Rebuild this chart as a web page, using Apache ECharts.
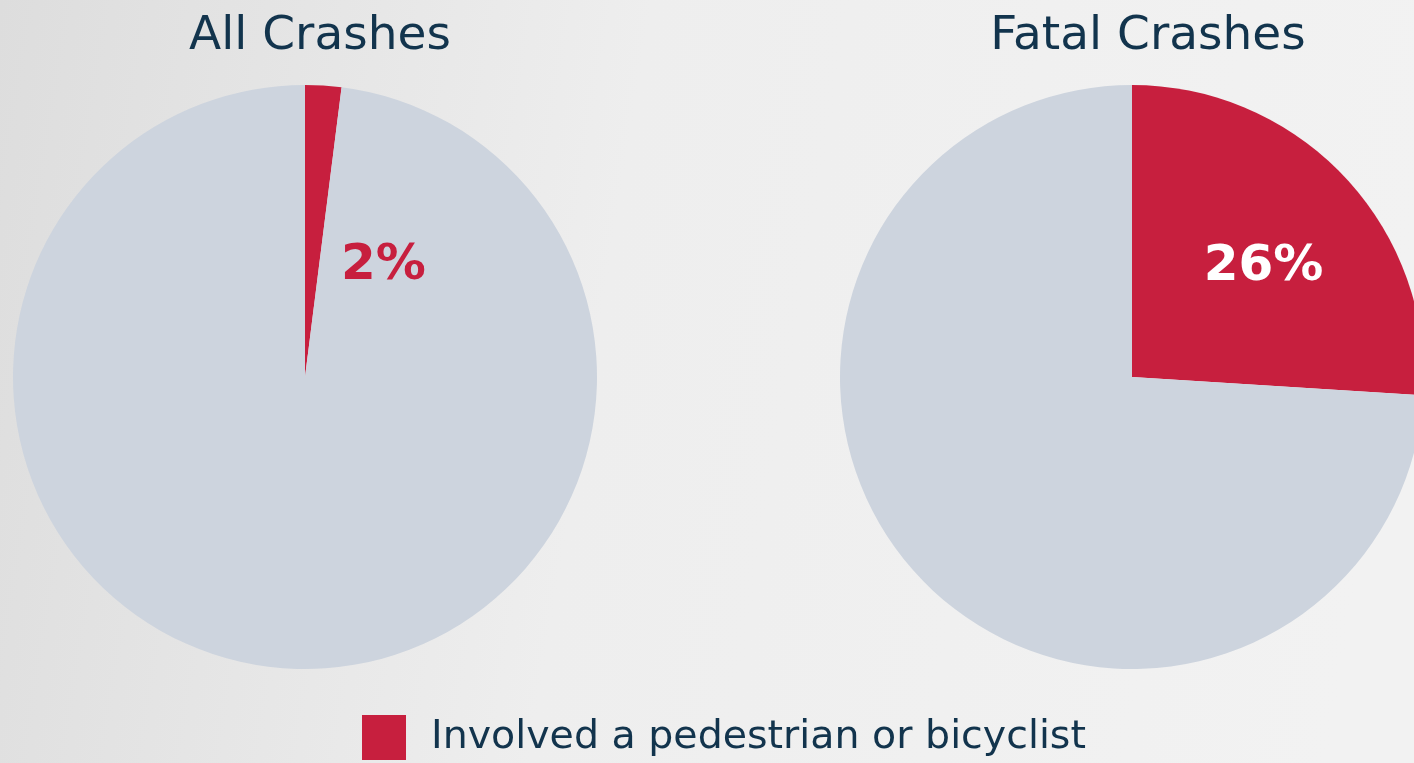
<!DOCTYPE html>
<html>
<head>
<meta charset="utf-8">
<script src="https://cdn.jsdelivr.net/npm/echarts@6/dist/echarts.min.js"></script>
<style>
  html, body { margin: 0; padding: 0; }
  #main { width: 1414px; height: 763px; }
</style>
</head>
<body>
<div id="main"></div>
<script>
// chart data
var chartTitles = ['All Crashes', 'Fatal Crashes']
var sliceNames = ['Involved a pedestrian or bicyclist', 'Other']
var allCrashes = [2, 98]
var fatalCrashes = [26, 74]

var RED = '#c71f3e'
var GREY = '#cdd4de'
var NAVY = '#12344d'
var FONT = '"DejaVu Sans", sans-serif'

function buildData (values, labelColor) {
  return values.map(function (v, i) {
    var item = { name: sliceNames[i], value: v, itemStyle: { color: i === 0 ? RED : GREY } }
    if (i === 0) {
      item.label = { show: true, color: labelColor }
    } else {
      item.label = { show: false }
    }
    return item
  })
}

var chartDom = document.getElementById('main')
var myChart = echarts.init(chartDom)
var option = {
  animation: false,
  backgroundColor: {
    type: 'linear',
    x: 0,
    y: 0,
    x2: 1,
    y2: 0.3,
    colorStops: [
      { offset: 0, color: '#dddddd' },
      { offset: 0.45, color: '#eeeeee' },
      { offset: 1, color: '#f2f2f2' }
    ]
  },
  title: [
    {
      text: chartTitles[0],
      left: 315,
      top: 8,
      textAlign: 'center',
      textStyle: { fontFamily: FONT, fontSize: 47, fontWeight: 'normal', color: NAVY }
    },
    {
      text: chartTitles[1],
      left: 1143,
      top: 8,
      textAlign: 'center',
      textStyle: { fontFamily: FONT, fontSize: 47, fontWeight: 'normal', color: NAVY }
    }
  ],
  legend: {
    data: [sliceNames[0]],
    left: 357,
    top: 710,
    icon: 'rect',
    itemWidth: 44,
    itemHeight: 45,
    selectedMode: false,
    textStyle: { fontFamily: FONT, fontSize: 39.5, color: NAVY, padding: [0, 0, 0, 20] }
  },
  series: [
    {
      type: 'pie',
      center: [305, 377],
      radius: [0, 292],
      startAngle: 90,
      clockwise: true,
      silent: true,
      label: {
        position: 'inside',
        formatter: '{c}%',
        fontFamily: FONT,
        fontSize: 50,
        fontWeight: 'bold'
      },
      labelLine: { show: false },
      labelLayout: { dx: 69, dy: 38 },
      data: buildData(allCrashes, RED)
    },
    {
      type: 'pie',
      center: [1132, 377],
      radius: [0, 292],
      startAngle: 90,
      clockwise: true,
      silent: true,
      label: {
        position: 'inside',
        formatter: '{c}%',
        fontFamily: FONT,
        fontSize: 50,
        fontWeight: 'bold'
      },
      labelLine: { show: false },
      labelLayout: { dx: 23, dy: -8 },
      data: buildData(fatalCrashes, '#ffffff')
    }
  ]
}
option && myChart.setOption(option)
</script>
</body>
</html>
